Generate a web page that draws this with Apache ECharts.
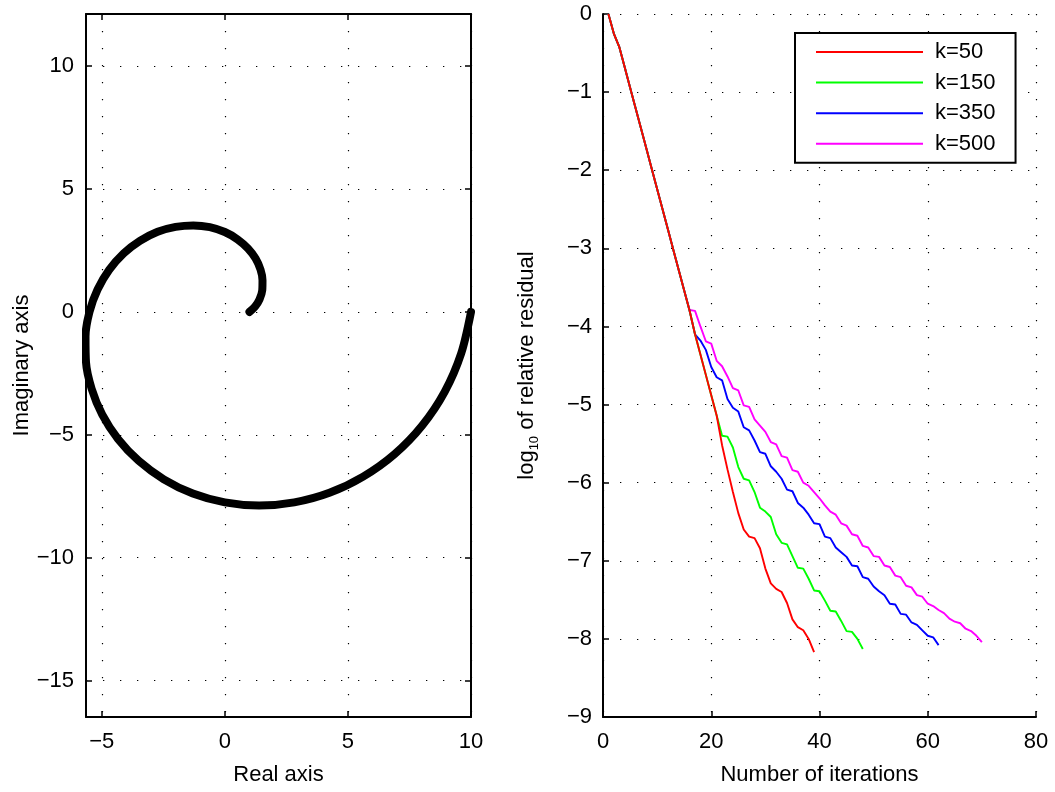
<!DOCTYPE html>
<html>
<head>
<meta charset="utf-8">
<script src="https://cdn.jsdelivr.net/npm/echarts@6/dist/echarts.min.js"></script>
<style>
html,body{margin:0;padding:0;background:#fff;}
#c{width:1055px;height:792px;}
</style>
</head>
<body>
<div id="c"></div>
<script>
// ---- Left panel: spiral in the complex plane (from the inner end outward) ----
const spiralRe = [1.00, 1.23, 1.41, 1.52, 1.53, 1.45, 1.25, 0.94, 0.52, 0.00, -0.61, -1.28, -2.00, -2.73, -3.45, -4.11, -4.70, -5.17, -5.50, -5.66, -5.64, -5.41, -4.98, -4.34, -3.50, -2.48, -1.30, 0.00, 1.39, 2.82, 4.25, 5.62, 6.89, 8.01, 8.93, 9.60, 10.00];
const spiralIm = [0.00, 0.22, 0.51, 0.88, 1.29, 1.72, 2.17, 2.58, 2.95, 3.25, 3.45, 3.52, 3.46, 3.26, 2.89, 2.38, 1.71, 0.91, 0.00, -1.00, -2.05, -3.13, -4.18, -5.17, -6.06, -6.81, -7.39, -7.75, -7.88, -7.75, -7.36, -6.70, -5.79, -4.63, -3.25, -1.69, 0.00];
const leftXTicks = [-5, 0, 5, 10];
const leftYTicks = [-15, -10, -5, 0, 5, 10];

// ---- Right panel: log10 of relative residual vs iterations (iteration 1, 2, ...) ----
const seriesNames = ['k=50', 'k=150', 'k=350', 'k=500'];
const seriesColors = ['#ff0000', '#00ff00', '#0000ff', '#ff00ff'];
const resK50 = [0, -0.25, -0.42, -0.68, -0.94, -1.20, -1.46, -1.72, -1.98, -2.24, -2.50, -2.76, -3.02, -3.28, -3.54, -3.80,
  -4.10, -4.36, -4.62, -4.88, -5.14, -5.52, -5.83, -6.12, -6.39, -6.60, -6.69, -6.71, -6.84, -7.10, -7.29, -7.36, -7.40, -7.54, -7.75, -7.85, -7.89, -8.00, -8.17];
const resK150 = [0, -0.25, -0.42, -0.68, -0.94, -1.20, -1.46, -1.72, -1.98, -2.24, -2.50, -2.76, -3.02, -3.28, -3.54, -3.80,
  -4.10, -4.36, -4.62, -4.88, -5.14, -5.40, -5.41, -5.55, -5.80, -5.95, -5.97, -6.12, -6.32, -6.37, -6.44, -6.66, -6.77, -6.79, -6.94, -7.09, -7.10, -7.23, -7.38, -7.39, -7.51, -7.64, -7.65, -7.77, -7.90, -7.91, -8.00, -8.13];
const resK350 = [0, -0.25, -0.42, -0.68, -0.94, -1.20, -1.46, -1.72, -1.98, -2.24, -2.50, -2.76, -3.02, -3.28, -3.54, -3.80,
  -4.10, -4.18, -4.30, -4.52, -4.65, -4.69, -4.93, -5.04, -5.09, -5.29, -5.33, -5.46, -5.61, -5.63, -5.79, -5.86, -5.95, -6.09, -6.11, -6.26, -6.32, -6.41, -6.52, -6.53, -6.69, -6.71, -6.83, -6.89, -6.95, -7.06, -7.07, -7.21, -7.23, -7.33, -7.39, -7.44, -7.55, -7.56, -7.68, -7.69, -7.79, -7.82, -7.89, -7.96, -7.98, -8.08];
const resK500 = [0, -0.25, -0.42, -0.68, -0.94, -1.20, -1.46, -1.72, -1.98, -2.24, -2.50, -2.76, -3.02, -3.28, -3.54, -3.79,
  -3.80, -4.00, -4.19, -4.22, -4.44, -4.51, -4.64, -4.79, -4.82, -5.01, -5.03, -5.19, -5.27, -5.35, -5.48, -5.51, -5.66, -5.68, -5.84, -5.86, -6.00, -6.04, -6.12, -6.20, -6.29, -6.37, -6.41, -6.52, -6.55, -6.66, -6.68, -6.81, -6.83, -6.94, -6.95, -7.06, -7.08, -7.19, -7.21, -7.32, -7.34, -7.44, -7.46, -7.55, -7.58, -7.63, -7.67, -7.74, -7.78, -7.80, -7.87, -7.90, -7.96, -8.04];
const residuals = [resK50, resK150, resK350, resK500];

const FONT = 'Liberation Sans, Arial, Helvetica, sans-serif';
const FS = 22;
const minusFmt = v => String(v).replace('-', '\u2212');
const dotted = { color: '#000', width: 1.2, type: [1.3, 15.7] };
const axLine = { show: true, onZero: false, lineStyle: { color: '#000', width: 2 } };
const tick = { show: true, inside: true, length: 6, lineStyle: { color: '#000', width: 1.5 } };
const lbl = { color: '#000', fontSize: FS, fontFamily: FONT, formatter: minusFmt };

const chart = echarts.init(document.getElementById('c'), null, { renderer: 'canvas' });

const spiralData = spiralRe.map((x, i) => [x, spiralIm[i]]);

const option = {
  animation: false,
  backgroundColor: '#fff',
  grid: [
    { left: 86, top: 14, width: 385, height: 703, containLabel: false },
    { left: 603, top: 14, width: 433, height: 703, containLabel: false }
  ],
  xAxis: [
    { gridIndex: 0, type: 'value', min: -5.64, max: 10, position: 'bottom',
      axisLine: axLine, axisTick: Object.assign({}, tick, { customValues: leftXTicks }),
      axisLabel: Object.assign({}, lbl, { margin: 14, customValues: leftXTicks }),
      splitLine: { show: true, lineStyle: dotted },
      name: 'Real axis', nameLocation: 'middle', nameGap: 47,
      nameTextStyle: { color: '#000', fontSize: FS, fontFamily: FONT } },
    { gridIndex: 0, type: 'value', min: -5.64, max: 10, position: 'top',
      axisLine: axLine, axisTick: Object.assign({}, tick, { customValues: leftXTicks }),
      axisLabel: { show: false }, splitLine: { show: false } },
    { gridIndex: 1, type: 'value', min: 0, max: 80, interval: 20, position: 'bottom',
      axisLine: axLine, axisTick: tick,
      axisLabel: Object.assign({}, lbl, { margin: 14 }),
      splitLine: { show: true, lineStyle: dotted },
      name: 'Number of iterations', nameLocation: 'middle', nameGap: 47,
      nameTextStyle: { color: '#000', fontSize: FS, fontFamily: FONT } }
  ],
  yAxis: [
    { gridIndex: 0, type: 'value', min: -16.48, max: 12.12, position: 'left',
      axisLine: axLine, axisTick: Object.assign({}, tick, { customValues: leftYTicks }),
      axisLabel: Object.assign({}, lbl, { margin: 12, customValues: leftYTicks }),
      splitLine: { show: true, lineStyle: dotted },
      name: 'Imaginary axis', nameLocation: 'middle', nameGap: 52,
      nameTextStyle: { color: '#000', fontSize: FS, fontFamily: FONT } },
    { gridIndex: 0, type: 'value', min: -16.48, max: 12.12, position: 'right',
      axisLine: axLine, axisTick: Object.assign({}, tick, { customValues: leftYTicks }),
      axisLabel: { show: false }, splitLine: { show: false } },
    { gridIndex: 1, type: 'value', min: -9, max: 0, interval: 1, position: 'left',
      axisLine: axLine, axisTick: tick,
      axisLabel: Object.assign({}, lbl, { margin: 11 }),
      splitLine: { show: true, lineStyle: dotted },
      name: '{n|log}{s|10}{n| of relative residual}', nameLocation: 'middle', nameGap: 62,
      nameTextStyle: { color: '#000', fontSize: FS, fontFamily: FONT,
        rich: {
          n: { fontSize: FS, fontFamily: FONT, color: '#000', lineHeight: 28, verticalAlign: 'middle' },
          s: { fontSize: 13, fontFamily: FONT, color: '#000', lineHeight: 13, verticalAlign: 'bottom' }
        } } }
  ],
  legend: {
    show: true, orient: 'vertical', left: 795, top: 33,
    padding: [8, 20, 8, 21], itemGap: 8.6, itemWidth: 107, itemHeight: 2, icon: 'rect',
    borderColor: '#000', borderWidth: 2, backgroundColor: '#fff',
    data: seriesNames,
    textStyle: { color: '#000', fontSize: FS, fontFamily: FONT, lineHeight: 22, padding: [0, 0, 0, 7] }
  },
  series: [
    { type: 'line', xAxisIndex: 0, yAxisIndex: 0, data: spiralData, showSymbol: false, symbol: 'none',
      smooth: 0.3, clip: false, lineStyle: { color: '#000', width: 8, cap: 'round', join: 'round' }, z: 5 }
  ].concat(residuals.map((arr, k) => ({
    name: seriesNames[k], type: 'line', xAxisIndex: 2, yAxisIndex: 2,
    data: arr.map((v, i) => [i + 1, v]), showSymbol: false, symbol: 'none', clip: false,
    color: seriesColors[k], itemStyle: { color: seriesColors[k] },
    lineStyle: { color: seriesColors[k], width: 1.9 }, z: 10 - k
  })))
};
chart.setOption(option);
</script>
</body>
</html>
